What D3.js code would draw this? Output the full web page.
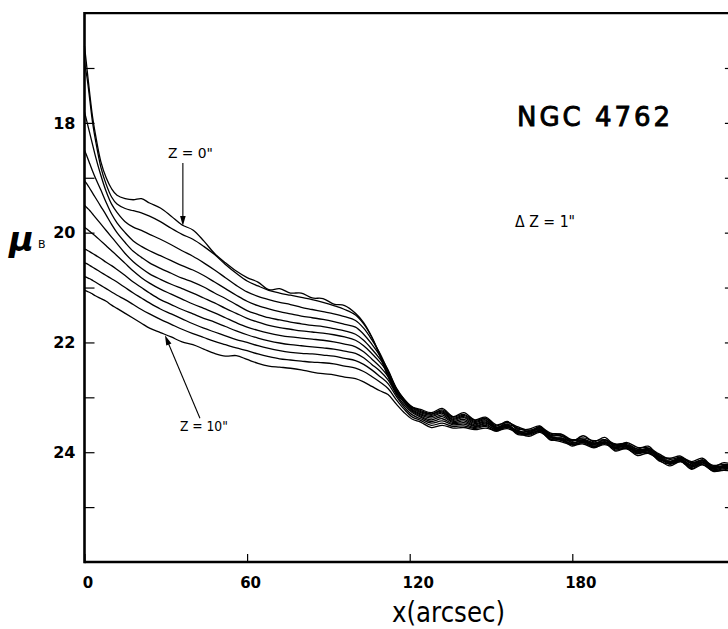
<!DOCTYPE html>
<html>
<head>
<meta charset="utf-8">
<script src="https://cdn.jsdelivr.net/npm/d3@7/dist/d3.min.js"></script>
<style>
  html, body { margin: 0; padding: 0; background: #fff; }
  svg { display: block; }
  text { font-family: "DejaVu Sans", sans-serif; fill: #000; }
</style>
</head>
<body>
<div id="chart"></div>
<script>
// position along the cut (arcsec)
var arcsec = [0, 1, 2, 3, 4, 6, 8, 10, 12, 15, 18, 21, 24,
  28, 32, 36, 40, 44, 48, 52, 56, 60, 64, 68, 72, 76, 80, 84, 88, 92, 96, 100,
  103, 106, 109, 112, 115, 118, 121,
  124, 128, 132, 136, 140, 144, 148,
  152, 156, 160, 164, 168, 172, 176, 180, 184, 188, 192, 196,
  200, 204, 208, 212, 216, 220, 224, 228, 232, 236, 240];

// surface brightness mu_B for each offset z = 0" .. 10"
var muZ0 = [16.6, 17.05, 17.5, 17.9, 18.2, 18.7, 19.0, 19.2, 19.32, 19.38, 19.4, 19.38, 19.46,
  19.55, 19.7, 19.86, 19.95, 20.15, 20.38, 20.55, 20.7, 20.82, 20.9, 21.04, 21.02, 21.1, 21.1, 21.19, 21.2, 21.3, 21.33, 21.47,
  21.64, 21.9, 22.25, 22.62, 22.92, 23.08, 23.18,
  23.22, 23.28, 23.20, 23.35, 23.28, 23.41, 23.36,
  23.50, 23.46, 23.54, 23.60, 23.55, 23.65, 23.68, 23.80, 23.70, 23.81, 23.73, 23.89,
  23.82, 23.91, 23.92, 24.03, 24.13, 24.09, 24.17, 24.11, 24.26, 24.19, 24.24];
var muZ1 = [16.9, 17.2, 17.6, 18.0, 18.3, 18.8, 19.12, 19.35, 19.48, 19.56, 19.6, 19.64, 19.7,
  19.8, 19.92, 20.03, 20.12, 20.25, 20.4, 20.58, 20.74, 20.88, 20.97, 21.05, 21.1, 21.14, 21.18, 21.22, 21.27, 21.33, 21.4, 21.5,
  21.66, 21.9, 22.22, 22.58, 22.88, 23.06, 23.18,
  23.24, 23.30, 23.23, 23.36, 23.31, 23.42, 23.38,
  23.52, 23.44, 23.58, 23.58, 23.52, 23.69, 23.67, 23.78, 23.74, 23.79, 23.77, 23.85,
  23.84, 23.94, 23.89, 24.07, 24.11, 24.07, 24.20, 24.14, 24.24, 24.22, 24.23];
var muZ2 = [17.8, 18.0, 18.2, 18.4, 18.6, 18.95, 19.25, 19.48, 19.63, 19.8, 19.9, 19.96, 20.03,
  20.12, 20.22, 20.33, 20.43, 20.55, 20.68, 20.82, 20.96, 21.08, 21.16, 21.22, 21.27, 21.31, 21.36, 21.4, 21.44, 21.48, 21.53, 21.6,
  21.74, 21.95, 22.2, 22.52, 22.84, 23.04, 23.18,
  23.26, 23.31, 23.25, 23.38, 23.33, 23.44, 23.39,
  23.54, 23.49, 23.56, 23.62, 23.57, 23.67, 23.71, 23.77, 23.76, 23.83, 23.79, 23.86,
  23.86, 23.95, 23.95, 24.05, 24.16, 24.11, 24.19, 24.15, 24.26, 24.25, 24.26];
var muZ3 = [18.5, 18.62, 18.75, 18.88, 19.0, 19.22, 19.45, 19.66, 19.82, 20.0, 20.15, 20.25, 20.33,
  20.42, 20.51, 20.6, 20.68, 20.78, 20.9, 21.02, 21.14, 21.25, 21.33, 21.39, 21.44, 21.48, 21.52, 21.55, 21.58, 21.62, 21.67, 21.72,
  21.85, 22.03, 22.24, 22.5, 22.82, 23.04, 23.2,
  23.28, 23.33, 23.27, 23.40, 23.35, 23.46, 23.41,
  23.57, 23.45, 23.60, 23.66, 23.53, 23.71, 23.75, 23.79, 23.78, 23.84, 23.81, 23.87,
  23.88, 23.97, 23.97, 24.07, 24.18, 24.10, 24.21, 24.18, 24.28, 24.26, 24.27];
var muZ4 = [19.05, 19.12, 19.2, 19.28, 19.36, 19.52, 19.68, 19.85, 20.0, 20.18, 20.34, 20.45, 20.55,
  20.65, 20.74, 20.83, 20.9, 20.99, 21.1, 21.2, 21.31, 21.42, 21.49, 21.55, 21.59, 21.63, 21.66, 21.69, 21.71, 21.75, 21.79, 21.85,
  21.96, 22.12, 22.3, 22.52, 22.84, 23.06, 23.22,
  23.30, 23.35, 23.29, 23.42, 23.37, 23.48, 23.43,
  23.55, 23.51, 23.62, 23.62, 23.58, 23.70, 23.70, 23.83, 23.79, 23.85, 23.77, 23.91,
  23.89, 23.98, 23.93, 24.10, 24.17, 24.13, 24.23, 24.14, 24.30, 24.24, 24.28];
var muZ5 = [19.5, 19.55, 19.6, 19.66, 19.72, 19.84, 19.96, 20.08, 20.2, 20.38, 20.53, 20.65, 20.75,
  20.85, 20.94, 21.02, 21.1, 21.19, 21.28, 21.38, 21.47, 21.56, 21.63, 21.69, 21.73, 21.76, 21.79, 21.81, 21.83, 21.86, 21.9, 21.96,
  22.06, 22.2, 22.36, 22.56, 22.86, 23.08, 23.24,
  23.32, 23.38, 23.32, 23.44, 23.40, 23.50, 23.45,
  23.58, 23.49, 23.64, 23.65, 23.55, 23.74, 23.74, 23.82, 23.80, 23.86, 23.81, 23.89,
  23.90, 23.99, 23.97, 24.09, 24.20, 24.12, 24.25, 24.16, 24.31, 24.28, 24.29];
var muZ6 = [19.9, 19.94, 19.98, 20.02, 20.06, 20.15, 20.24, 20.33, 20.42, 20.56, 20.7, 20.82, 20.92,
  21.03, 21.12, 21.21, 21.3, 21.38, 21.46, 21.55, 21.64, 21.72, 21.78, 21.83, 21.87, 21.9, 21.92, 21.94, 21.96, 21.99, 22.03, 22.08,
  22.17, 22.3, 22.44, 22.62, 22.9, 23.1, 23.26,
  23.34, 23.41, 23.35, 23.46, 23.43, 23.52, 23.47,
  23.56, 23.53, 23.61, 23.67, 23.60, 23.72, 23.77, 23.84, 23.77, 23.89, 23.82, 23.92,
  23.87, 24.02, 23.96, 24.12, 24.19, 24.15, 24.24, 24.19, 24.29, 24.27, 24.31];
var muZ7 = [20.3, 20.32, 20.35, 20.38, 20.41, 20.47, 20.54, 20.6, 20.67, 20.78, 20.9, 21.0, 21.1,
  21.22, 21.31, 21.4, 21.48, 21.56, 21.63, 21.71, 21.79, 21.86, 21.92, 21.97, 22.01, 22.04, 22.06, 22.08, 22.1, 22.12, 22.16, 22.2,
  22.28, 22.4, 22.52, 22.68, 22.94, 23.14, 23.28,
  23.36, 23.44, 23.39, 23.48, 23.46, 23.53, 23.49,
  23.60, 23.51, 23.66, 23.64, 23.59, 23.76, 23.75, 23.86, 23.82, 23.87, 23.84, 23.93,
  23.91, 24.00, 24.00, 24.13, 24.18, 24.14, 24.28, 24.18, 24.33, 24.30, 24.31];
var muZ8 = [20.55, 20.57, 20.6, 20.63, 20.66, 20.72, 20.78, 20.84, 20.9, 21.0, 21.1, 21.19, 21.28,
  21.39, 21.48, 21.57, 21.66, 21.74, 21.81, 21.88, 21.95, 22.0, 22.06, 22.11, 22.15, 22.18, 22.2, 22.21, 22.23, 22.25, 22.29, 22.33,
  22.4, 22.5, 22.62, 22.75, 22.98, 23.18, 23.32,
  23.39, 23.47, 23.43, 23.50, 23.49, 23.55, 23.51,
  23.59, 23.55, 23.63, 23.69, 23.62, 23.73, 23.79, 23.85, 23.83, 23.90, 23.81, 23.96,
  23.92, 24.01, 24.01, 24.11, 24.22, 24.17, 24.26, 24.22, 24.33, 24.27, 24.33];
var muZ9 = [20.8, 20.82, 20.84, 20.87, 20.9, 20.96, 21.02, 21.08, 21.14, 21.22, 21.31, 21.4, 21.48,
  21.58, 21.67, 21.76, 21.84, 21.91, 21.98, 22.04, 22.1, 22.15, 22.21, 22.26, 22.3, 22.32, 22.34, 22.36, 22.37, 22.39, 22.43, 22.47,
  22.53, 22.62, 22.72, 22.84, 23.04, 23.22, 23.36,
  23.42, 23.51, 23.47, 23.53, 23.52, 23.57, 23.53,
  23.62, 23.53, 23.68, 23.67, 23.61, 23.78, 23.77, 23.89, 23.80, 23.91, 23.86, 23.94,
  23.94, 24.03, 23.98, 24.16, 24.21, 24.16, 24.30, 24.20, 24.35, 24.32, 24.33];
var muZ10 = [21.05, 21.07, 21.09, 21.12, 21.15, 21.2, 21.25, 21.32, 21.38, 21.47, 21.56, 21.65, 21.74,
  21.82, 21.9, 21.99, 22.04, 22.12, 22.2, 22.25, 22.24, 22.31, 22.38, 22.43, 22.45, 22.47, 22.5, 22.54, 22.57, 22.59, 22.63, 22.66,
  22.72, 22.8, 22.88, 22.95, 23.12, 23.28, 23.4,
  23.45, 23.55, 23.51, 23.56, 23.55, 23.59, 23.56,
  23.61, 23.57, 23.65, 23.71, 23.64, 23.76, 23.81, 23.87, 23.85, 23.92, 23.84, 23.98,
  23.93, 24.06, 24.02, 24.14, 24.25, 24.17, 24.31, 24.23, 24.34, 24.33, 24.35];

var profiles = [muZ0, muZ1, muZ2, muZ3, muZ4, muZ5, muZ6, muZ7, muZ8, muZ9, muZ10];

var yTickValues = [17, 18, 19, 20, 21, 22, 23, 24, 25];
var yTickLabels = [18, 20, 22, 24];
var xTickValues = [0, 60, 120, 180];

var width = 728,
    height = 629;

var x = d3.scaleLinear().domain([0, 240]).range([84.5, 734.9]);
var y = d3.scaleLinear().domain([16, 26]).range([13.1, 562]);

var svg = d3.select("#chart").append("svg")
  .attr("width", width)
  .attr("height", height);

// profiles
var line = d3.line()
  .x(function(d) { return x(d[0]); })
  .y(function(d) { return y(d[1]); })
  .curve(d3.curveCatmullRom.alpha(0.5));

svg.append("g").selectAll("path")
  .data(profiles)
  .enter()
  .append("path")
  .attr("d", function(p) {
    var pts = [];
    for (var i = 0; i < arcsec.length && i < p.length; i++) pts.push([arcsec[i], p[i]]);
    return line(pts);
  })
  .attr("fill", "none")
  .attr("stroke", "#000")
  .attr("stroke-width", 1.3)
  .attr("stroke-linejoin", "round");

// axes: ticks point inward
var yAxis = d3.axisLeft(y)
  .tickValues(yTickValues)
  .tickSize(-10)
  .tickPadding(9)
  .tickFormat(function(d) { return yTickLabels.indexOf(d) >= 0 ? d : ""; });

var gy = svg.append("g")
  .attr("transform", "translate(" + x(0) + ",0)")
  .call(yAxis);
gy.select(".domain").remove();
gy.selectAll("line").attr("stroke", "#000").attr("stroke-width", 1.2);
gy.selectAll("text")
  .style("font-family", "'DejaVu Sans', sans-serif")
  .style("font-size", "16px")
  .style("font-weight", "bold");

var gyr = svg.append("g")
  .attr("transform", "translate(" + x(240) + ",0)")
  .call(d3.axisRight(y).tickValues(yTickValues).tickSize(-10).tickFormat(""));
gyr.select(".domain").remove();
gyr.selectAll("line").attr("stroke", "#000").attr("stroke-width", 1.2);

var xAxis = d3.axisBottom(x)
  .tickValues(xTickValues)
  .tickSize(-8)
  .tickPadding(15);

var gx = svg.append("g")
  .attr("transform", "translate(0," + y(26) + ")")
  .call(xAxis);
gx.select(".domain").remove();
gx.selectAll("line").attr("stroke", "#000").attr("stroke-width", 1.2);
gx.selectAll("text")
  .attr("dx", function(d) { return d >= 120 ? 8 : 3; })
  .style("font-family", "'DejaVu Sans', sans-serif")
  .style("font-size", "15px")
  .style("font-weight", "bold");

// frame
svg.append("line").attr("x1", x(0)).attr("x2", x(0)).attr("y1", y(16) - 1).attr("y2", y(26) + 1.2)
  .attr("stroke", "#000").attr("stroke-width", 2.6);
svg.append("line").attr("x1", x(0)).attr("x2", x(240)).attr("y1", y(16)).attr("y2", y(16))
  .attr("stroke", "#000").attr("stroke-width", 2.2);
svg.append("line").attr("x1", x(0)).attr("x2", x(240)).attr("y1", y(26)).attr("y2", y(26))
  .attr("stroke", "#000").attr("stroke-width", 2.6);
svg.append("line").attr("x1", x(240)).attr("x2", x(240)).attr("y1", y(16)).attr("y2", y(26))
  .attr("stroke", "#000").attr("stroke-width", 2.4);

// arrows
function arrow(x1, y1, x2, y2) {
  var ax = x(x1), ay = y(y1), bx = x(x2), by = y(y2);
  var ang = Math.atan2(by - ay, bx - ax);
  var len = 10, hw = 2.8;
  svg.append("line")
    .attr("x1", ax).attr("y1", ay).attr("x2", bx - Math.cos(ang) * 4).attr("y2", by - Math.sin(ang) * 4)
    .attr("stroke", "#000").attr("stroke-width", 1.1);
  var px = bx - Math.cos(ang) * len, py = by - Math.sin(ang) * len;
  svg.append("path")
    .attr("d", "M" + bx + "," + by +
      "L" + (px + Math.sin(ang) * hw) + "," + (py - Math.cos(ang) * hw) +
      "L" + (px - Math.sin(ang) * hw) + "," + (py + Math.cos(ang) * hw) + "Z")
    .attr("fill", "#000");
}
arrow(36.3, 18.73, 36.3, 19.88);
arrow(42.6, 23.38, 29.7, 21.87);

// labels
svg.append("text")
  .attr("x", x(30.8)).attr("y", y(18.64))
  .attr("textLength", 45).attr("lengthAdjust", "spacingAndGlyphs")
  .style("font-size", "14px")
  .text("Z = 0\"");

svg.append("text")
  .attr("x", x(35.2)).attr("y", y(23.61))
  .attr("textLength", 48).attr("lengthAdjust", "spacingAndGlyphs")
  .style("font-size", "14px")
  .text("Z = 10\"");

svg.append("text")
  .attr("x", x(159.6)).attr("y", y(18.06))
  .attr("textLength", 153).attr("lengthAdjust", "spacing")
  .style("font-size", "26px")
  .style("stroke", "#000")
  .style("stroke-width", "0.9px")
  .text("NGC 4762");

svg.append("text")
  .attr("x", x(158.9)).attr("y", y(19.89))
  .attr("textLength", 60).attr("lengthAdjust", "spacingAndGlyphs")
  .style("font-size", "15px")
  .text("\u0394 Z = 1\"");

// axis titles
svg.append("text")
  .attr("x", 392).attr("y", 622)
  .attr("textLength", 113).attr("lengthAdjust", "spacingAndGlyphs")
  .style("font-size", "28px")
  .text("x(arcsec)");

svg.append("text")
  .attr("x", 9).attr("y", 251)
  .style("font-size", "34px")
  .style("font-weight", "bold")
  .style("font-style", "italic")
  .text("\u03bc");

svg.append("text")
  .attr("x", 38).attr("y", 248)
  .style("font-size", "11px")
  .text("B");
</script>
</body>
</html>
